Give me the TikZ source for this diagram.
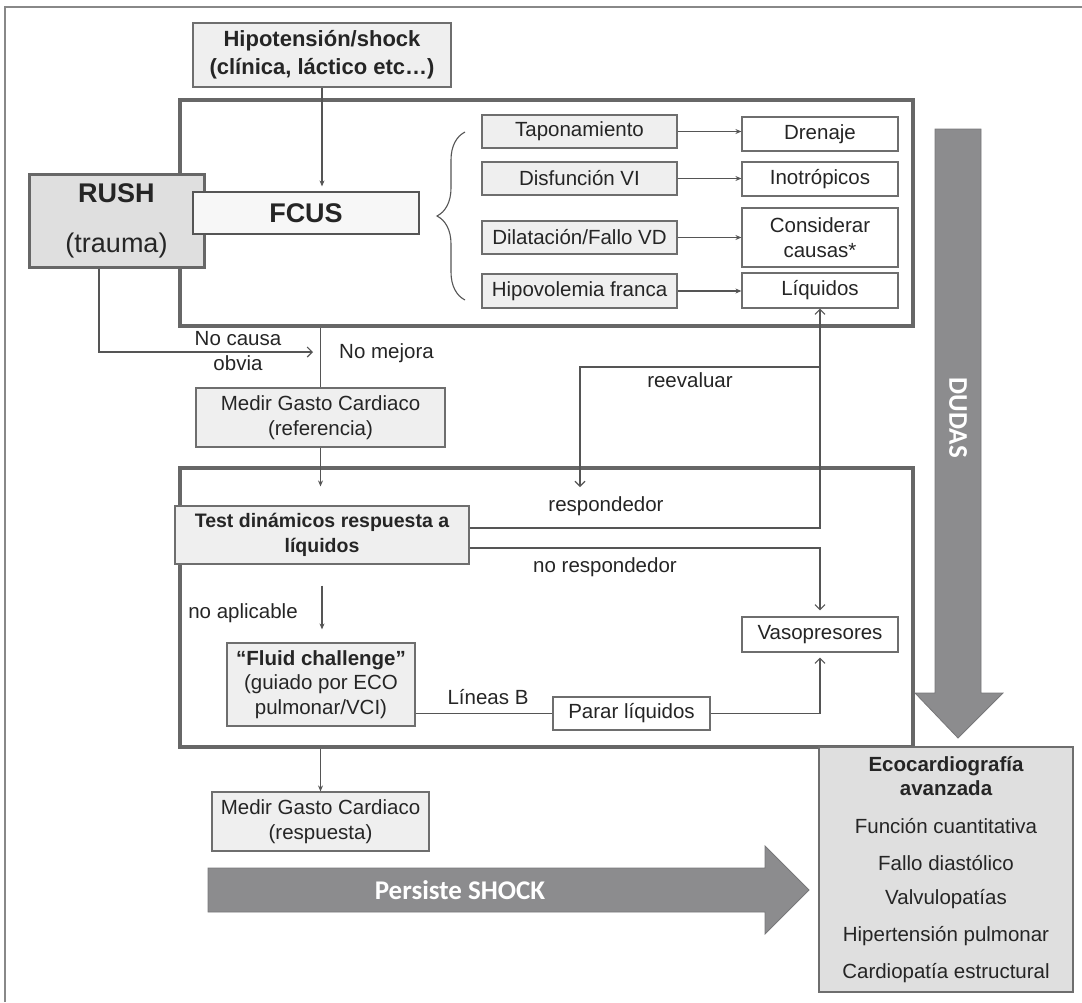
\documentclass[tikz,border=0pt]{standalone}
\usepackage{fontspec}
\setmainfont{Liberation Sans}
\newfontfamily\calibfont{Carlito}
\usetikzlibrary{arrows.meta,decorations.pathreplacing}

\definecolor{linea}{HTML}{555555}
\definecolor{texto}{HTML}{252525}
\definecolor{grisclaro}{HTML}{EFEFEF}
\definecolor{grismedio}{HTML}{DFDFDF}
\definecolor{marcogris}{HTML}{676767}
\definecolor{flechagris}{HTML}{8C8C8E}

\newcommand{\letrabase}{\fontsize{20.5}{24.5}\selectfont}

\tikzset{
  every node/.style={font=\letrabase, text=texto},
  caja/.style={draw=linea!85, line width=1.2pt, fill=grisclaro, align=center, inner sep=0pt},
  cajab/.style={caja, fill=white},
  marco/.style={draw=marcogris, line width=4pt, inner sep=0pt},
  con/.style={draw=linea, line width=1.1pt},
  punta/.style={con, -{Stealth[length=6pt,width=5pt]}},
  abierta/.style={con, -{Straight Barb[length=5pt,width=10pt]}},
  rotulo/.style={inner sep=0pt, align=center},
  gruesa/.style={fill=flechagris, draw=flechagris!85!black, line width=0.8pt},
}

\begin{document}
\begin{tikzpicture}[x=1pt,y=-1pt]
  \useasboundingbox (0,0) rectangle (1082,1002);
  \draw[draw=linea!70, line width=1.2pt] (5,1002) |- (1082,7);

  % marcos
  \node[marco, minimum width=733pt, minimum height=226pt] (marco1) at (546.5,213) {};
  \node[marco, minimum width=733pt, minimum height=279pt] (marco2) at (546.5,607.5) {};

  % parte superior
  \node[caja, minimum width=258pt, minimum height=64pt, font=\fontsize{22}{28}\selectfont\bfseries] (hipo) at (322,55) {Hipotensión/shock\\(clínica, láctico etc…)};
  \node[caja, fill=grismedio, draw=marcogris, line width=3pt, minimum width=175pt, minimum height=93pt, font=\fontsize{27}{32}\selectfont] (rush) at (116.5,220.5) {\textbf{RUSH}\\[18pt](trauma)};
  \node[caja, fill=grisclaro!50, draw=linea, minimum width=226pt, minimum height=42pt, font=\fontsize{27}{32}\selectfont\bfseries] (fcus) at (306,213) {FCUS};

  \node[caja, minimum width=195pt, minimum height=33pt] (tapo) at (579.5,131.5) {Taponamiento};
  \node[caja, minimum width=195pt, minimum height=33pt] (disf) at (579.5,178.5) {Disfunción VI};
  \node[caja, minimum width=195pt, minimum height=33pt] (dilat) at (579.5,237.5) {Dilatación/Fallo VD};
  \node[caja, minimum width=195pt, minimum height=34pt] (hipov) at (579.5,291) {Hipovolemia franca};

  \node[cajab, minimum width=156pt, minimum height=34pt] (dren) at (820,134) {Drenaje};
  \node[cajab, minimum width=156pt, minimum height=34pt] (inot) at (820,179) {Inotrópicos};
  \node[cajab, minimum width=156pt, minimum height=59pt] (consid) at (820,237.5) {Considerar\\causas*};
  \node[cajab, minimum width=156pt, minimum height=35pt] (liq) at (820,290.5) {Líquidos};

  \draw[punta, shorten >=5pt] (hipo.south) -- (hipo.south |- fcus.north);
  \draw[con, decorate, decoration={brace, amplitude=28pt}] (465,300) -- (465,132);
  \foreach \i/\o in {tapo/dren, disf/inot, dilat/consid, hipov/liq}
    \draw[punta] (\i.east) -- (\i.east -| \o.west);

  % no causa obvia / no mejora
  \coordinate (nocausa) at (313,352);
  \draw[abierta] ([xshift=-17.5pt]rush.south) |- (nocausa);
  \node[rotulo] at (238,351) {No causa\\obvia};
  \node[caja, minimum width=249pt, minimum height=59pt] (medir) at (320.5,417.5) {Medir Gasto Cardiaco\\(referencia)};
  \draw[con] (marco1.south -| medir.north) -- (medir.north);
  \node[rotulo, anchor=west] at (339,353) {No mejora};

  % respuesta a liquidos
  \node[caja, minimum width=294pt, minimum height=58pt, font=\fontsize{19.5}{25}\selectfont\bfseries] (test) at (322,535) {Test dinámicos respuesta a\\líquidos};
  \draw[punta, shorten >=19pt] (medir.south) -- (medir.south |- test.north);
  \node[cajab, minimum width=156pt, minimum height=35pt] (vaso) at (820,634.5) {Vasopresores};
  \node[caja, minimum width=188pt, minimum height=83pt] (fluid) at (321,684.5) {\textbf{“Fluid challenge”}\\(guiado por ECO\\pulmonar/VCI)};
  \node[cajab, minimum width=157pt, minimum height=33pt] (parar) at (631.5,713.5) {Parar líquidos};

  \coordinate (resp) at (0,528);
  \coordinate (noresp) at (0,548);
  \coordinate (reev) at (820,367);
  \coordinate (reevfin) at (580,487);
  \draw[abierta] (test.east |- resp) -| (liq.south);
  \draw[abierta] (reev) -| (reevfin);
  \draw[abierta, shorten >=6pt] (test.east |- noresp) -| (vaso.north);
  \draw[punta, shorten <=21pt, shorten >=13pt] (test.south) -- (test.south |- fluid.north);
  \draw[con] (fluid.east |- parar.west) -- (parar.west);
  \draw[abierta, shorten >=5pt] (parar.east) -| (vaso.south);

  \node[rotulo] at (690,380) {reevaluar};
  \node[rotulo] at (606,506) {respondedor};
  \node[rotulo] at (605,567) {no respondedor};
  \node[rotulo] at (243,613) {no aplicable};
  \node[rotulo] at (488,697) {Líneas B};

  % parte inferior
  \node[caja, minimum width=217pt, minimum height=59pt] (medir2) at (320.5,821.5) {Medir Gasto Cardiaco\\(respuesta)};
  \draw[punta] (marco2.south -| medir2.north) -- (medir2.north);

  \draw[gruesa] (208,868) -- (765,868) -- (765,846) -- (809,890) -- (765,934) -- (765,912) -- (208,912) -- cycle;
  \node[text=white, font=\calibfont\fontsize{27}{30}\selectfont\bfseries] (persiste) at (460,890) {Persiste SHOCK};
  \draw[gruesa] (935,129) -- (981,129) -- (981,693) -- (1003,693) -- (958,738) -- (915,693) -- (935,693) -- cycle;
  \node[text=white, rotate=-90, font=\calibfont\fontsize{27}{30}\selectfont\bfseries] (dudas) at (958,418) {DUDAS};

  \node[caja, fill=grismedio, minimum width=254pt, minimum height=245pt] (eco) at (946,869.5) {};
  \node[rotulo, font=\letrabase\bfseries] at (946,776) {Ecocardiografía\\avanzada};
  \foreach \t [count=\k] in {Función cuantitativa, Fallo diastólico, Valvulopatías, Hipertensión pulmonar, Cardiopatía estructural}
    \node[rotulo] at (946,789+36.8*\k) {\t};
\end{tikzpicture}
\end{document}
